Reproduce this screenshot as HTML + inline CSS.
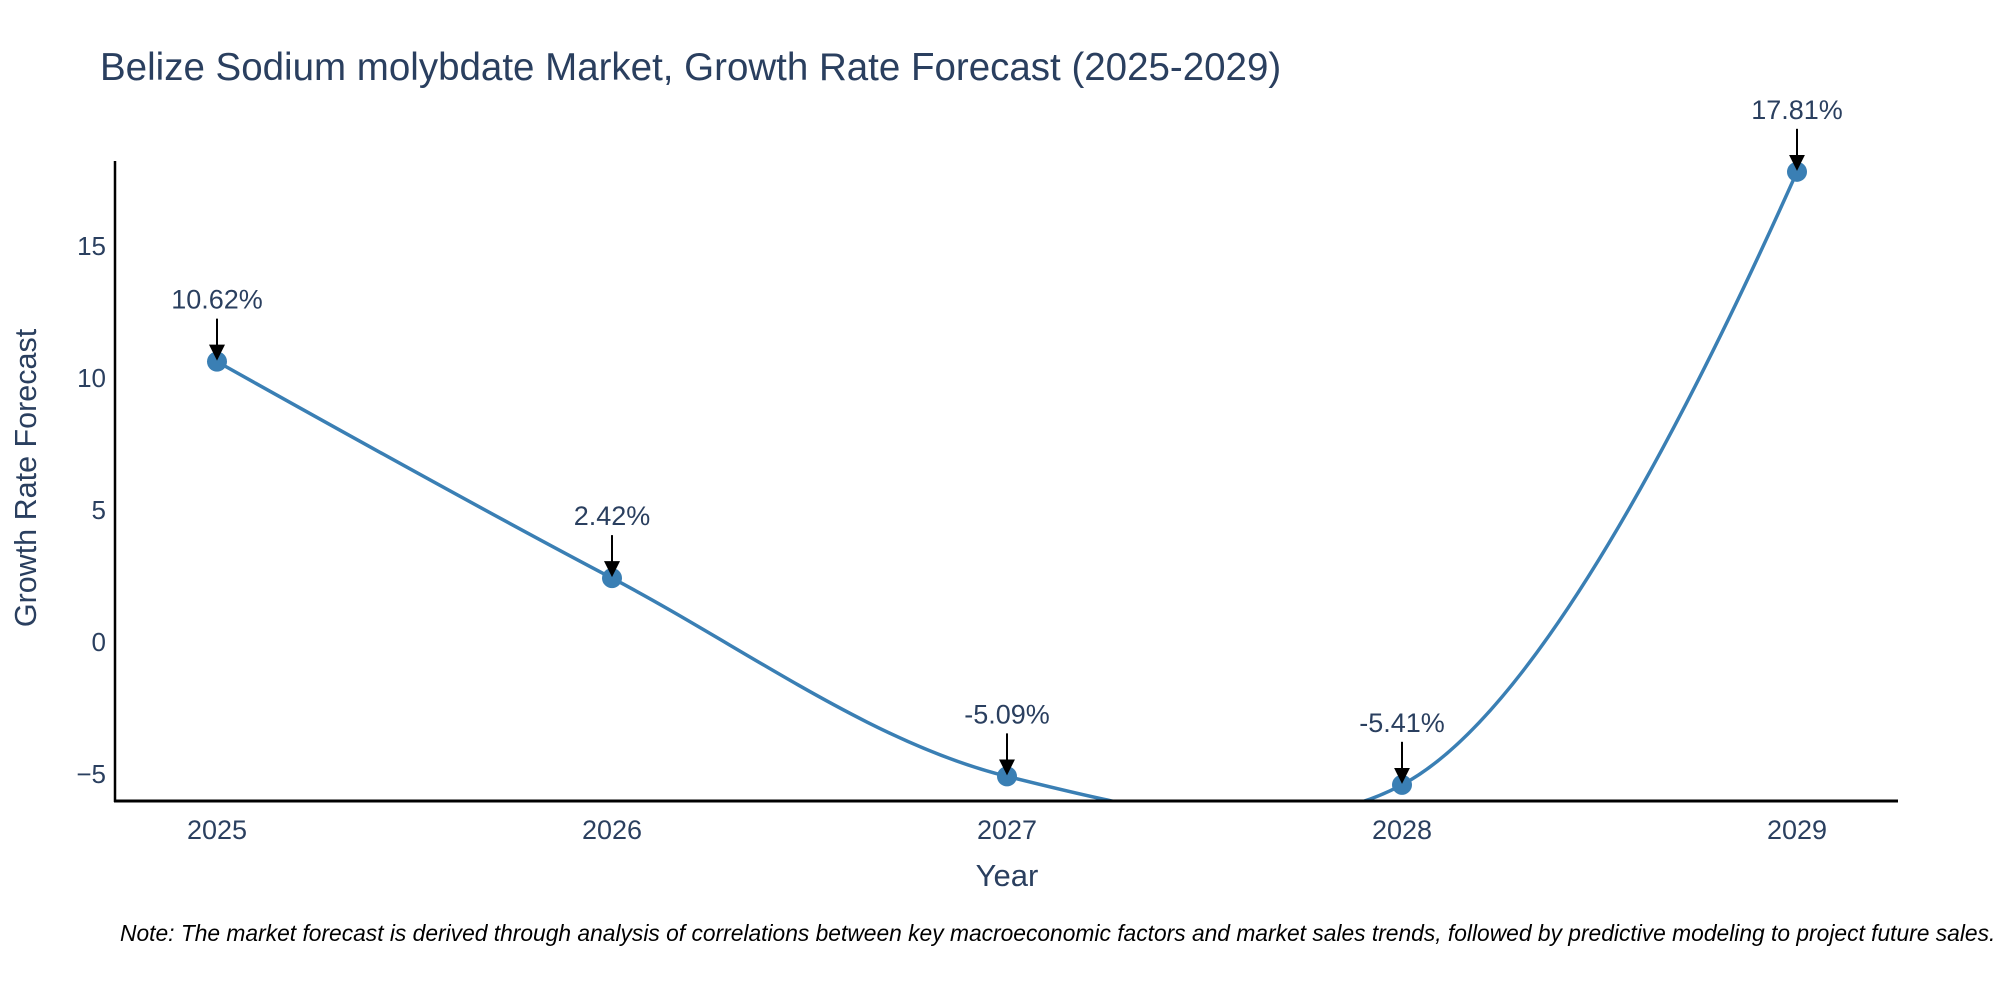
<!DOCTYPE html>
<html><head><meta charset="utf-8"><style>
html,body{margin:0;padding:0;background:#fff;}
svg{display:block;font-family:"Liberation Sans",Arial,sans-serif;}
</style></head><body>
<svg id="chart" width="2000" height="1000" viewBox="0 0 2000 1000">
<defs>
<clipPath id="plotclip"><rect x="115" y="150" width="1785" height="651"/></clipPath>
<marker id="arrowhead" markerWidth="16" markerHeight="16" refX="14" refY="8" orient="auto" markerUnits="userSpaceOnUse" viewBox="0 0 16 16"><path d="M0,0 L16,8 L0,16 Z" fill="#000"/></marker>
</defs>
<text x="100" y="80" font-size="38.5" fill="#2a3f5f">Belize Sodium molybdate Market, Growth Rate Forecast (2025-2029)</text>
<g id="yticks"></g>
<g id="xticks"></g>
<g clip-path="url(#plotclip)"><path id="line" fill="none" stroke="#3a7fb4" stroke-width="3.5"/></g>
<g id="points"></g>
<g id="annots"></g>
<line x1="115" y1="161" x2="115" y2="802" stroke="#000" stroke-width="2.5"/>
<line x1="114" y1="801" x2="1898" y2="801" stroke="#000" stroke-width="3"/>
<text x="1007" y="886" font-size="31" fill="#2a3f5f" text-anchor="middle">Year</text>
<text transform="translate(36,478) rotate(-90)" font-size="30.5" fill="#2a3f5f" text-anchor="middle">Growth Rate Forecast</text>
<text x="120" y="941" font-size="22.8" font-style="italic" fill="#000">Note: The market forecast is derived through analysis of correlations between key macroeconomic factors and market sales trends, followed by predictive modeling to project future sales.</text>
</svg>
<script>
const years = ["2025","2026","2027","2028","2029"];
const values = [10.62, 2.42, -5.09, -5.41, 17.81];
const labels = ["10.62%","2.42%","-5.09%","-5.41%","17.81%"];
const yTicks = [-5, 0, 5, 10, 15];
const NS="http://www.w3.org/2000/svg";
function X(i){return 217 + i*395;}
function Y(v){return 642 - v*26.4;}
function mk(tag,attrs,parent){const e=document.createElementNS(NS,tag);for(const k in attrs)e.setAttribute(k,attrs[k]);parent.appendChild(e);return e;}
const yt=document.getElementById('yticks');
yTicks.forEach(t=>{const e=mk('text',{x:106,y:Y(t)+9,'font-size':26,fill:'#2a3f5f','text-anchor':'end'},yt);


e.textContent=t<0?'\u2212'+Math.abs(t):String(t);});
const xt=document.getElementById('xticks');
years.forEach((y,i)=>{const e=mk('text',{x:X(i),y:839,'font-size':27,fill:'#2a3f5f','text-anchor':'middle'},xt);


e.textContent=y;});
const pts=values.map((v,i)=>[X(i),Y(v)]);
function tangent(p0,p1,p2,s){
 const d1x=p0[0]-p1[0],d1y=p0[1]-p1[1],d2x=p2[0]-p1[0],d2y=p2[1]-p1[1];
 const d1a=Math.pow(d1x*d1x+d1y*d1y,0.25),d2a=Math.pow(d2x*d2x+d2y*d2y,0.25);
 const nx=(d2a*d2a*d1x-d1a*d1a*d2x)*s,ny=(d2a*d2a*d1y-d1a*d1a*d2y)*s;
 const den1=3*d2a*(d1a+d2a),den2=3*d1a*(d1a+d2a);
 return [[p1[0]+nx/den1,p1[1]+ny/den1],[p1[0]-nx/den2,p1[1]-ny/den2]];
}
const tg=[];
for(let i=1;i<pts.length-1;i++)tg.push(tangent(pts[i-1],pts[i],pts[i+1],1));
let d='M'+pts[0]+'Q'+tg[0][0]+' '+pts[1];
for(let i=2;i<pts.length-1;i++)d+='C'+tg[i-2][1]+' '+tg[i-1][0]+' '+pts[i];
d+='Q'+tg[pts.length-3][1]+' '+pts[pts.length-1];
document.getElementById('line').setAttribute('d',d);
const pg=document.getElementById('points'),ag=document.getElementById('annots');
pts.forEach((p,i)=>{
 const c=mk('circle',{cx:p[0],cy:p[1],r:10,fill:'#3a7fb4'},pg);
 
 
 const l=mk('line',{x1:p[0],y1:p[1]-43,x2:p[0],y2:p[1]-3,stroke:'#000','stroke-width':2,'marker-end':'url(#arrowhead)'},ag);
 
 
 const t=mk('text',{x:p[0],y:p[1]-53,'font-size':27,fill:'#2a3f5f','text-anchor':'middle'},ag);
 
 
 t.textContent=labels[i];
});
</script>
</body></html>
